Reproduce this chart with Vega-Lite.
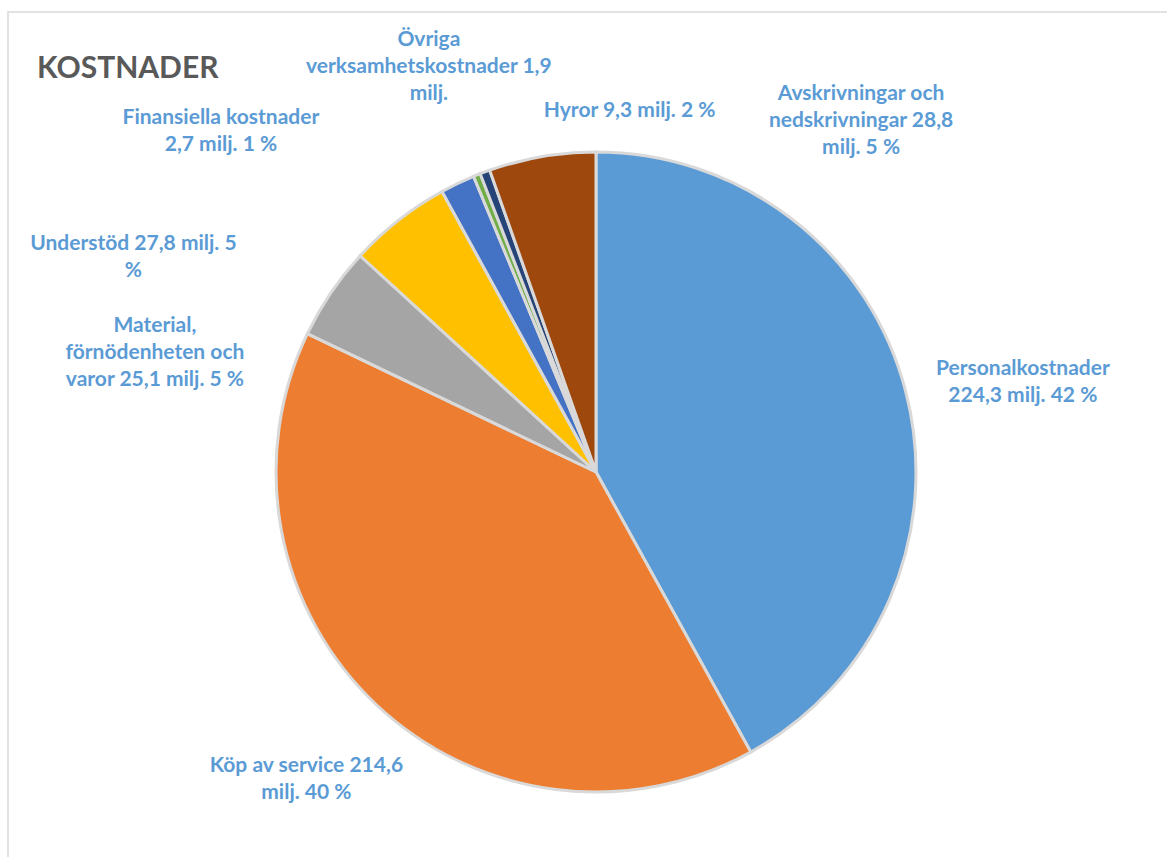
{
  "$schema": "https://vega.github.io/schema/vega-lite/v6.json",
  "autosize": "none",
  "width": 1176,
  "height": 920,
  "padding": {"left": 8, "top": 12, "right": -17, "bottom": -75},
  "background": "white",
  "view": {"stroke": "#D9D9D9", "strokeWidth": 1.5},
  "title": {"text": "KOSTNADER", "anchor": "start", "frame": "group", "font": "Lato", "fontSize": 30, "fontWeight": "bold", "color": "#595959", "offset": 0, "baseline": "alphabetic", "dx": 29, "dy": 97},
  "data": {"values": [
    {"category": "Personalkostnader", "value": 224.3, "rank": 1, "label": "Personalkostnader\n224,3 milj. 42 %"},
    {"category": "Köp av service", "value": 214.6, "rank": 2, "label": "Köp av service 214,6\nmilj. 40 %"},
    {"category": "Material, förnödenheten och varor", "value": 25.1, "rank": 3, "label": "Material,\nförnödenheten och\nvaror 25,1 milj. 5 %"},
    {"category": "Understöd", "value": 27.8, "rank": 4, "label": "Understöd 27,8 milj. 5\n%"},
    {"category": "Hyror", "value": 9.3, "rank": 5, "label": "Hyror 9,3 milj. 2 %"},
    {"category": "Övriga verksamhetskostnader", "value": 1.9, "rank": 6, "label": "Övriga\nverksamhetskostnader 1,9\nmilj."},
    {"category": "Finansiella kostnader", "value": 2.7, "rank": 7, "label": "Finansiella kostnader\n2,7 milj. 1 %"},
    {"category": "Avskrivningar och nedskrivningar", "value": 28.8, "rank": 8, "label": "Avskrivningar och\nnedskrivningar 28,8\nmilj. 5 %"}
  ]},
  "encoding": {
    "theta": {"field": "value", "type": "quantitative", "stack": true},
    "order": {"field": "rank", "type": "quantitative", "sort": "ascending"},
    "detail": {"field": "category", "type": "nominal"}
  },
  "layer": [
    {
      "mark": {"type": "arc", "outerRadius": 320, "stroke": "#D9D9D9", "strokeWidth": 3},
      "encoding": {
        "color": {"field": "category", "type": "nominal", "legend": null,
          "scale": {"domain": ["Personalkostnader", "Köp av service", "Material, förnödenheten och varor", "Understöd", "Hyror", "Övriga verksamhetskostnader", "Finansiella kostnader", "Avskrivningar och nedskrivningar"],
                    "range": ["#5B9BD5", "#ED7D31", "#A5A5A5", "#FFC000", "#4472C4", "#70AD47", "#264478", "#9E480E"]}}
      }
    },
    {"mark": {"type": "text", "radius": 320, "dx": 117, "dy": -17, "align": "center", "baseline": "alphabetic", "lineBreak": "\n", "lineHeight": 27, "font": "Lato", "fontSize": 21, "fontWeight": "bold", "fill": "#5B9BD5"},
     "encoding": {"text": {"condition": {"test": "datum.category === 'Personalkostnader'", "field": "label"}, "value": ""}}},
    {"mark": {"type": "text", "radius": 320, "dx": -70, "dy": 67, "align": "center", "baseline": "alphabetic", "lineBreak": "\n", "lineHeight": 27, "font": "Lato", "fontSize": 21, "fontWeight": "bold", "fill": "#5B9BD5"},
     "encoding": {"text": {"condition": {"test": "datum.category === 'Köp av service'", "field": "label"}, "value": ""}}},
    {"mark": {"type": "text", "radius": 320, "dx": -176, "dy": 39, "align": "center", "baseline": "alphabetic", "lineBreak": "\n", "lineHeight": 27, "font": "Lato", "fontSize": 21, "fontWeight": "bold", "fill": "#5B9BD5"},
     "encoding": {"text": {"condition": {"test": "datum.category === 'Material, förnödenheten och varor'", "field": "label"}, "value": ""}}},
    {"mark": {"type": "text", "radius": 320, "dx": -265, "dy": 30, "align": "center", "baseline": "alphabetic", "lineBreak": "\n", "lineHeight": 27, "font": "Lato", "fontSize": 21, "fontWeight": "bold", "fill": "#5B9BD5"},
     "encoding": {"text": {"condition": {"test": "datum.category === 'Understöd'", "field": "label"}, "value": ""}}},
    {"mark": {"type": "text", "radius": 320, "dx": 172, "dy": -66, "align": "center", "baseline": "alphabetic", "lineBreak": "\n", "lineHeight": 27, "font": "Lato", "fontSize": 21, "fontWeight": "bold", "fill": "#5B9BD5"},
     "encoding": {"text": {"condition": {"test": "datum.category === 'Hyror'", "field": "label"}, "value": ""}}},
    {"mark": {"type": "text", "radius": 320, "dx": -48, "dy": -129, "align": "center", "baseline": "alphabetic", "lineBreak": "\n", "lineHeight": 27, "font": "Lato", "fontSize": 21, "fontWeight": "bold", "fill": "#5B9BD5"},
     "encoding": {"text": {"condition": {"test": "datum.category === 'Övriga verksamhetskostnader'", "field": "label"}, "value": ""}}},
    {"mark": {"type": "text", "radius": 320, "dx": -264, "dy": -48, "align": "center", "baseline": "alphabetic", "lineBreak": "\n", "lineHeight": 27, "font": "Lato", "fontSize": 21, "fontWeight": "bold", "fill": "#5B9BD5"},
     "encoding": {"text": {"condition": {"test": "datum.category === 'Finansiella kostnader'", "field": "label"}, "value": ""}}},
    {"mark": {"type": "text", "radius": 320, "dx": 319, "dy": -57, "align": "center", "baseline": "alphabetic", "lineBreak": "\n", "lineHeight": 27, "font": "Lato", "fontSize": 21, "fontWeight": "bold", "fill": "#5B9BD5"},
     "encoding": {"text": {"condition": {"test": "datum.category === 'Avskrivningar och nedskrivningar'", "field": "label"}, "value": ""}}}
  ]
}
